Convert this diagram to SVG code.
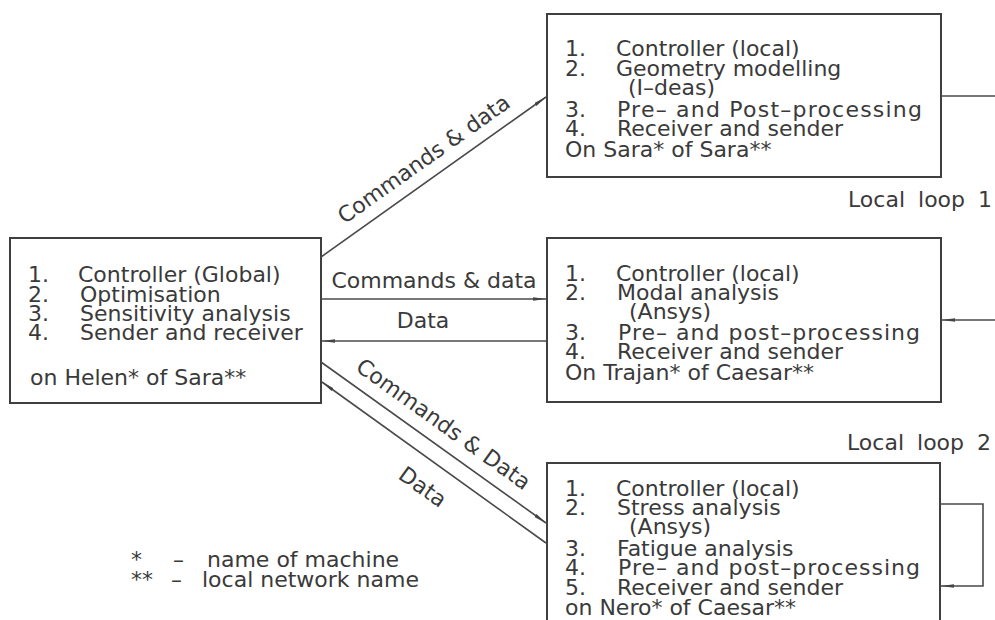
<svg xmlns="http://www.w3.org/2000/svg" width="995" height="620" viewBox="0 0 995 620">
<style>
.t{font-family:"DejaVu Sans","Liberation Sans",sans-serif;font-size:22px;fill:#3a3a3a}
.box{fill:none;stroke:#3f3f3f;stroke-width:2}
.ln{fill:none;stroke:#4a4a4a;stroke-width:1.6}
</style>
<defs>
<marker id="arr" markerUnits="userSpaceOnUse" markerWidth="14" markerHeight="6" refX="13" refY="3" orient="auto">
<path d="M0,1.2 L13,3 L0,4.8 z" fill="#444"/>
</marker>
</defs>
<rect width="995" height="620" fill="#ffffff"/>

<g id="node-global">
<rect class="box" x="10" y="238" width="311" height="165"/>
<text class="t" x="28" y="282">1.</text><text class="t" x="78" y="282">Controller (Global)</text>
<text class="t" x="28" y="301.5">2.</text><text class="t" x="80" y="301.5">Optimisation</text>
<text class="t" x="28" y="321">3.</text><text class="t" x="80" y="321">Sensitivity analysis</text>
<text class="t" x="28" y="340">4.</text><text class="t" x="80" y="340">Sender and receiver</text>
<text class="t" x="30" y="385">on Helen* of Sara**</text>
</g>

<g id="node-geometry">
<rect class="box" x="547" y="14" width="394" height="163"/>
<text class="t" x="565" y="56">1.</text><text class="t" x="616" y="56">Controller (local)</text>
<text class="t" x="565" y="75.5">2.</text><text class="t" x="616" y="75.5">Geometry modelling</text>
<text class="t" x="628" y="95">(I–deas)</text>
<text class="t" x="565" y="116.5">3.</text><text class="t" x="617" y="116.5" textLength="305" lengthAdjust="spacing">Pre– and Post–processing</text>
<text class="t" x="565" y="136">4.</text><text class="t" x="617" y="136">Receiver and sender</text>
<text class="t" x="565" y="156.5">On Sara* of Sara**</text>
</g>

<g id="node-modal">
<rect class="box" x="547" y="238" width="394" height="164"/>
<text class="t" x="565" y="281">1.</text><text class="t" x="616" y="281">Controller (local)</text>
<text class="t" x="565" y="300">2.</text><text class="t" x="617" y="300">Modal analysis</text>
<text class="t" x="629" y="318.5">(Ansys)</text>
<text class="t" x="565" y="339.5">3.</text><text class="t" x="618" y="339.5" textLength="302" lengthAdjust="spacing">Pre– and post–processing</text>
<text class="t" x="565" y="359">4.</text><text class="t" x="617" y="359">Receiver and sender</text>
<text class="t" x="565" y="380">On Trajan* of Caesar**</text>
</g>

<g id="node-stress">
<rect class="box" x="547" y="463" width="393" height="170"/>
<text class="t" x="565" y="496">1.</text><text class="t" x="616" y="496">Controller (local)</text>
<text class="t" x="565" y="515">2.</text><text class="t" x="617" y="515">Stress analysis</text>
<text class="t" x="629" y="534">(Ansys)</text>
<text class="t" x="565" y="556">3.</text><text class="t" x="617" y="556">Fatigue analysis</text>
<text class="t" x="565" y="574.5">4.</text><text class="t" x="618" y="574.5" textLength="302" lengthAdjust="spacing">Pre– and post–processing</text>
<text class="t" x="565" y="594.5">5.</text><text class="t" x="617" y="594.5">Receiver and sender</text>
<text class="t" x="565" y="615">on Nero* of Caesar**</text>
</g>

<g id="connectors">
<path class="ln" d="M321,257 L546,97" marker-end="url(#arr)"/>
<path class="ln" d="M321,299 L546,299" marker-end="url(#arr)"/>
<path class="ln" d="M546,341 L322,341" marker-end="url(#arr)"/>
<path class="ln" d="M321,362 L546,523" marker-end="url(#arr)"/>
<path class="ln" d="M546,543 L322,382" marker-end="url(#arr)"/>
<path class="ln" d="M941,96 L995,96"/>
<path class="ln" d="M995,320 L942,320" marker-end="url(#arr)"/>
<path class="ln" d="M940,504 L983,504 L983,586 L941,586" marker-end="url(#arr)"/>
</g>

<g id="connector-labels">
<text class="t" transform="translate(434,177) rotate(-35.3)" x="2" y="-13" text-anchor="middle">Commands &amp; data</text>
<text class="t" x="434" y="288" text-anchor="middle">Commands &amp; data</text>
<text class="t" x="423" y="328" text-anchor="middle">Data</text>
<text class="t" transform="translate(434,442.5) rotate(35.56)" x="-3" y="-13" text-anchor="middle">Commands &amp; Data</text>
<text class="t" transform="translate(434,462.5) rotate(35.56)" x="5" y="34" text-anchor="middle">Data</text>
<text class="t" x="848" y="207" word-spacing="6">Local loop 1</text>
<text class="t" x="847" y="450" word-spacing="6">Local loop 2</text>
</g>

<g id="legend">
<text class="t" x="131" y="567">*</text><text class="t" x="173" y="567">–</text><text class="t" x="207" y="567">name of machine</text>
<text class="t" x="131" y="587">**</text><text class="t" x="171" y="587">–</text><text class="t" x="202" y="587">local network name</text>
</g>
</svg>
